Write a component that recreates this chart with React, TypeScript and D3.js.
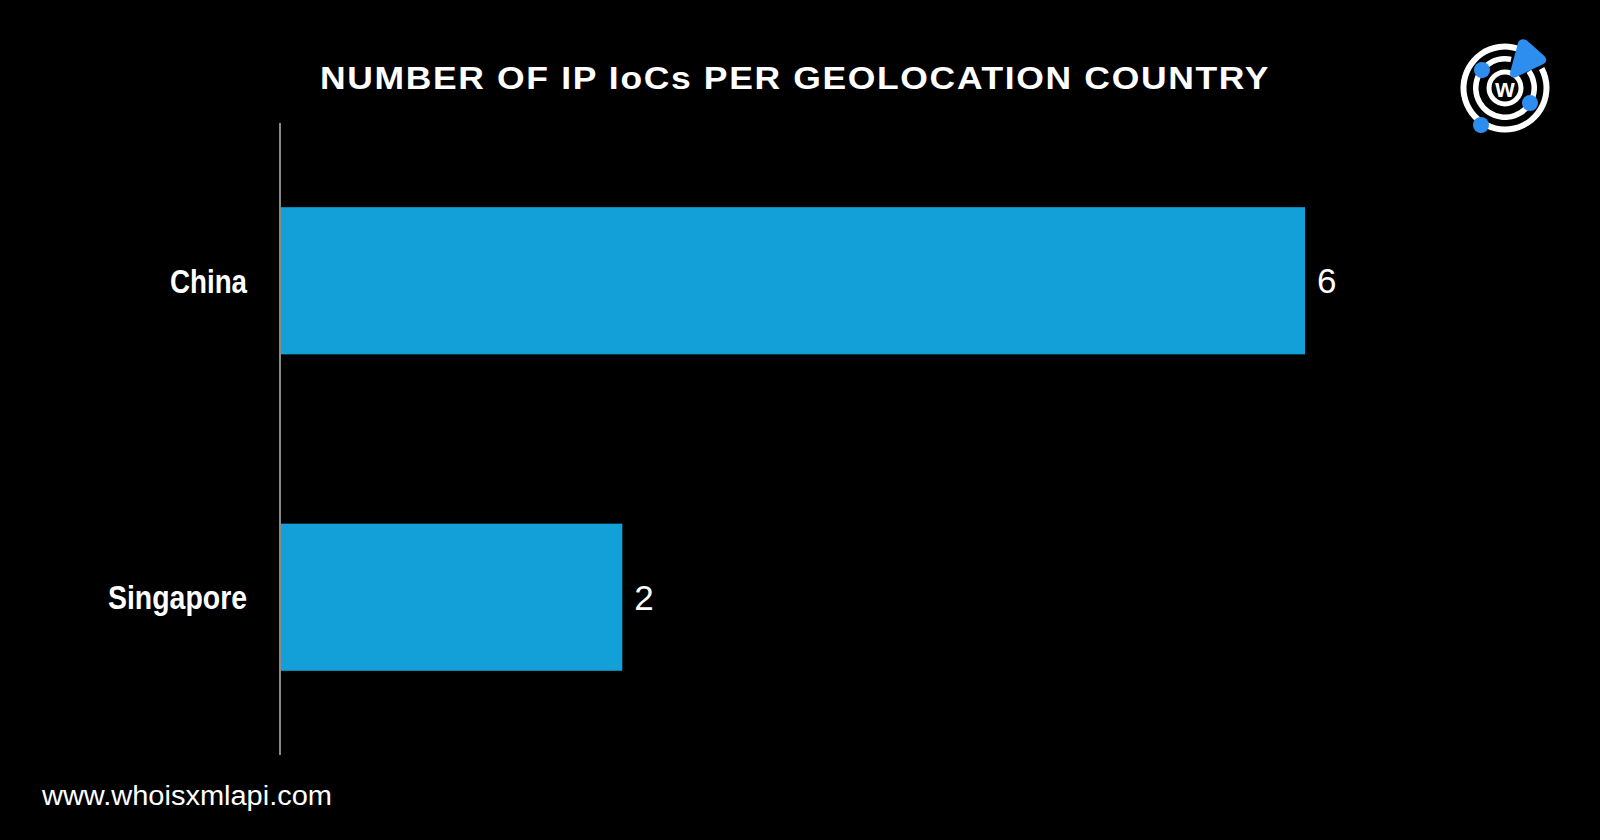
import React from "react";
import * as d3 from "d3";

const categories = ["China", "Singapore"];
const values = [6, 2];
const labelWidths = [77, 139];
const titleText = "NUMBER OF IP IoCs PER GEOLOCATION COUNTRY";
const footerText = "www.whoisxmlapi.com";

const W = 1600;
const H = 840;
const BAR = "#139fd8";
const LOGO_BLUE = "#2e8ef0";

function Logo({ cx, cy }: { cx: number; cy: number }) {
  const arc = d3.arc();
  const deg = (a: number) => (a * Math.PI) / 180;
  const outer = arc({ innerRadius: 38.5, outerRadius: 44.5, startAngle: deg(62), endAngle: deg(360 + 18) } as any) as string;
  const middle = arc({ innerRadius: 26.5, outerRadius: 32, startAngle: deg(55), endAngle: deg(360 + 12) } as any) as string;
  const inner = arc({ innerRadius: 13.5, outerRadius: 18.5, startAngle: 0, endAngle: deg(360) } as any) as string;
  return (
    <g transform={`translate(${cx},${cy})`}>
      <path d={outer} fill="#fff" />
      <path d={middle} fill="#fff" />
      <path d={inner} fill="#fff" />
      <text x={0} y={8.5} textAnchor="middle" fontFamily="'Liberation Sans', Arial, sans-serif" fontWeight="bold" fontSize={25} fill="#fff">w</text>
      <circle cx={-23} cy={-18} r={8} fill={LOGO_BLUE} />
      <circle cx={25} cy={15} r={8} fill={LOGO_BLUE} />
      <circle cx={-24} cy={37} r={8} fill={LOGO_BLUE} />
      <path d="M 14,-45 Q 16,-49 21,-47 L 39,-31 Q 42,-27 38,-25 L 11,-12 Q 6,-10 6,-15 Z" fill={LOGO_BLUE} stroke={LOGO_BLUE} strokeWidth={2} strokeLinejoin="round" />
    </g>
  );
}

export default function App() {
  const x = d3.scaleLinear().domain([0, 6]).range([281, 1305]);
  const y = d3.scaleBand<string>().domain(categories).range([123, 755]).paddingInner(0.535).paddingOuter(0.266);

  return (
    <div style={{ position: "fixed", left: 0, top: 0, width: W, height: H, background: "#000" }}>
      <svg width={W} height={H} style={{ display: "block" }}>
        <rect x={0} y={0} width={W} height={H} fill="#000" />
        <text x={320} y={89} fontFamily="'Liberation Sans', Arial, sans-serif" fontWeight="bold" fontSize={32} letterSpacing={1.5} fill="#fff" textLength={950} lengthAdjust="spacingAndGlyphs">{titleText}</text>
        {categories.map((c, i) => {
          const y0 = y(c) as number;
          const bw = y.bandwidth();
          const cy = y0 + bw / 2;
          return (
            <g key={c}>
              <rect x={x(0)} y={y0} width={x(values[i]) - x(0)} height={bw} fill={BAR} />
              <text x={247} y={cy + 12} textAnchor="end" fontFamily="'Liberation Sans', Arial, sans-serif" fontWeight="bold" fontSize={33} fill="#fff" textLength={labelWidths[i]} lengthAdjust="spacingAndGlyphs">{c}</text>
              <text x={x(values[i]) + 12} y={cy + 12.5} fontFamily="'Liberation Sans', Arial, sans-serif" fontSize={35} fill="#fff">{values[i]}</text>
            </g>
          );
        })}
        <line x1={280} x2={280} y1={123} y2={755} stroke="#8a8a8a" strokeWidth={2} />
        <text x={42} y={805} fontFamily="'Liberation Sans', Arial, sans-serif" fontSize={27} fill="#fff" textLength={290} lengthAdjust="spacingAndGlyphs">{footerText}</text>
        <Logo cx={1505} cy={88} />
      </svg>
    </div>
  );
}
